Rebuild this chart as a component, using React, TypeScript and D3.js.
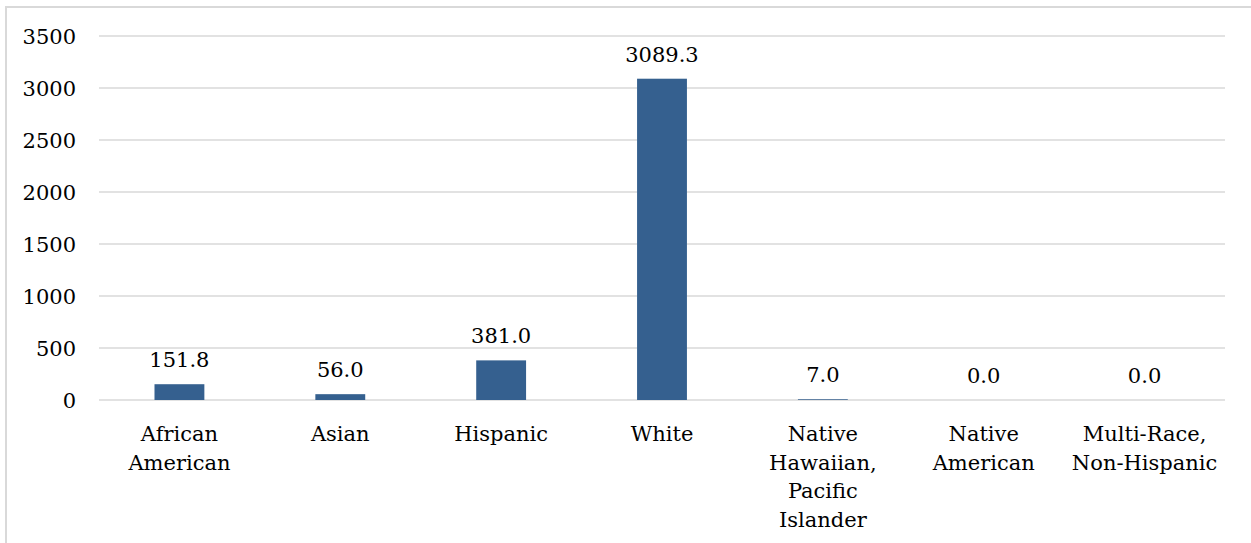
import React from "react";
import * as d3 from "d3";

const categories: string[][] = [
  ["African", "American"],
  ["Asian"],
  ["Hispanic"],
  ["White"],
  ["Native", "Hawaiian,", "Pacific", "Islander"],
  ["Native", "American"],
  ["Multi-Race,", "Non-Hispanic"],
];
const values: number[] = [151.8, 56.0, 381.0, 3089.3, 7.0, 0.0, 0.0];
const yTicks: number[] = [0, 500, 1000, 1500, 2000, 2500, 3000, 3500];

const W = 1251;
const H = 543;
const left = 99;
const right = 1225;
const top = 36;
const bottom = 400;
const FONT = "'DejaVu Serif', serif";
const FS = 21;

export default function App() {
  const keys = categories.map((c) => c.join(" "));
  const x = d3.scaleBand<string>().domain(keys).range([left, right]).paddingInner(0.69).paddingOuter(0.345);
  const y = d3.scaleLinear().domain([0, 3500]).range([bottom, top]);
  const band = d3.scaleBand<string>().domain(keys).range([left, right]);

  return (
    <svg
      width={W}
      height={H}
      style={{ position: "absolute", left: 0, top: 0, background: "#fff", fontFamily: FONT }}
    >
      <rect x={6} y={7} width={W + 20} height={H + 20} fill="#fff" stroke="#d9d9d9" strokeWidth={2} />
      {yTicks.map((t) => (
        <g key={t}>
          <line x1={left} x2={right} y1={y(t)} y2={y(t)} stroke="#d9d9d9" strokeWidth={1.5} />
          <text x={76} y={y(t) + 8} textAnchor="end" fontSize={FS} fill="#000">
            {t}
          </text>
        </g>
      ))}
      {values.map((v, i) => {
        const k = keys[i];
        const cx = (band(k) as number) + band.bandwidth() / 2;
        return (
          <g key={k}>
            <rect x={x(k)} y={y(v)} width={x.bandwidth()} height={y(0) - y(v)} fill="#35608f" />
            <text x={cx} y={y(v) - 17} textAnchor="middle" fontSize={FS} fill="#000">
              {v.toFixed(1)}
            </text>
            <text x={cx} y={441} textAnchor="middle" fontSize={FS} fill="#000">
              {categories[i].map((line, j) => (
                <tspan key={j} x={cx} y={441 + j * 28.5}>
                  {line}
                </tspan>
              ))}
            </text>
          </g>
        );
      })}
    </svg>
  );
}
